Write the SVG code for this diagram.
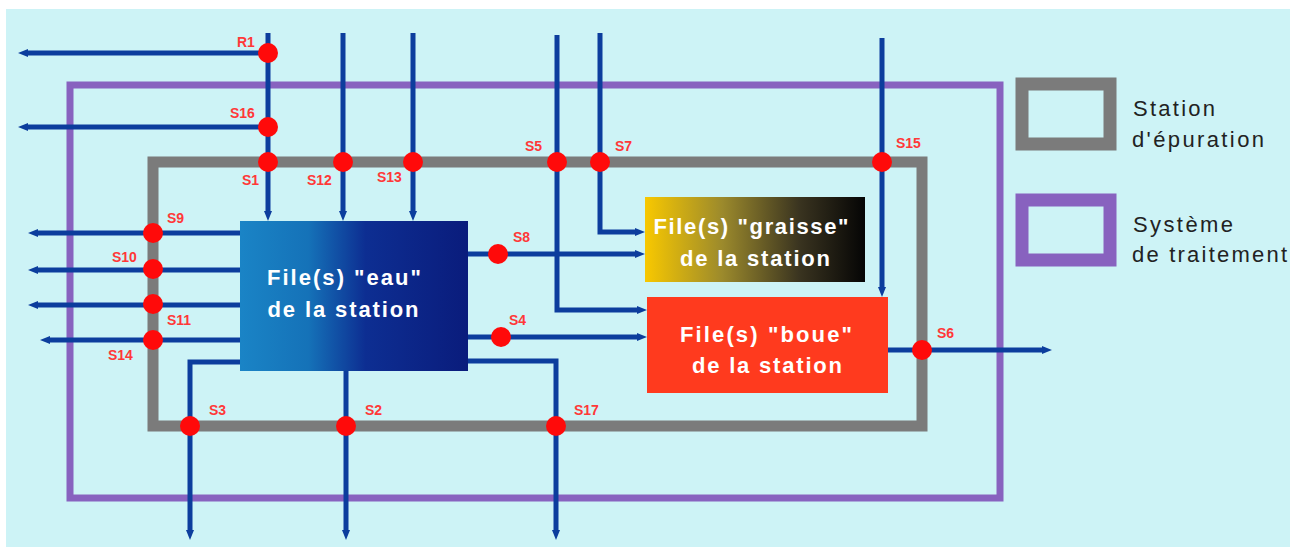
<svg xmlns="http://www.w3.org/2000/svg" width="1290" height="547" viewBox="0 0 1290 547">
<defs>
<style>
.bg{fill:#cdf3f6}
.flow{fill:none;stroke:#0c3d9d;stroke-width:5}
.arr{marker-end:url(#tip)}
.dot{fill:#ff0a0a}
.lbl{font-family:"Liberation Sans",Arial,sans-serif;font-weight:bold;font-size:14px;fill:#ff3838}
.box{font-family:"Liberation Sans",Arial,sans-serif;font-weight:bold;font-size:22px;fill:#ffffff;text-anchor:middle}
.leg{font-family:"Liberation Sans",Arial,sans-serif;font-size:22px;fill:#222222}
.station{fill:none;stroke:#7b7b7b;stroke-width:11}
.systeme{fill:none;stroke:#8862bf;stroke-width:7}
</style>
<marker id="tip" viewBox="0 0 10 8" refX="0" refY="4" markerWidth="10" markerHeight="8" markerUnits="userSpaceOnUse" orient="auto">
<path d="M0,0 L10,4 L0,8 z" fill="#0c3d9d"/>
</marker>
<linearGradient id="gEau" x1="0" y1="0" x2="1" y2="0">
<stop offset="0" stop-color="#1a84c6"/>
<stop offset="0.3" stop-color="#1572b8"/>
<stop offset="0.55" stop-color="#0d2e92"/>
<stop offset="1" stop-color="#0a1c7c"/>
</linearGradient>
<linearGradient id="gGraisse" x1="0" y1="0" x2="1" y2="0">
<stop offset="0" stop-color="#f8c800"/>
<stop offset="0.35" stop-color="#9c8a2c"/>
<stop offset="0.7" stop-color="#3a3420"/>
<stop offset="1" stop-color="#050505"/>
</linearGradient>
</defs>
<rect x="0" y="0" width="1290" height="547" fill="#ffffff"/>
<rect class="bg" x="6" y="9" width="1284" height="538"/>

<g id="systeme-traitement"><rect class="systeme" x="70" y="85" width="930" height="413"/></g>
<g id="station-epuration"><rect class="station" x="153" y="162" width="769" height="264"/></g>

<g id="connectors">
<path class="flow arr" d="M268,53 H28"/>
<path class="flow arr" d="M268,127 H28"/>
<path class="flow arr" d="M268,33 V211"/>
<path class="flow arr" d="M343,33 V211"/>
<path class="flow arr" d="M413,33 V211"/>
<path class="flow arr" d="M557,35 V310 H637"/>
<path class="flow arr" d="M600,33 V232 H635"/>
<path class="flow arr" d="M882,38 V287"/>
<path class="flow arr" d="M240,233 H38"/>
<path class="flow arr" d="M240,270 H38"/>
<path class="flow arr" d="M240,305 H38"/>
<path class="flow arr" d="M240,340 H50"/>
<path class="flow arr" d="M468,254 H635"/>
<path class="flow arr" d="M468,337 H637"/>
<path class="flow arr" d="M346,371 V530"/>
<path class="flow arr" d="M240,362 H190 V530"/>
<path class="flow arr" d="M468,361 H556 V530"/>
<path class="flow arr" d="M888,350 H1042"/>
</g>

<g id="file-eau">
<rect x="240" y="221" width="228" height="150" fill="url(#gEau)"/>
<text class="box" x="344" y="285" textLength="154" lengthAdjust="spacing">File(s) "eau"</text>
<text class="box" x="343" y="317" textLength="151" lengthAdjust="spacing">de la station</text>
</g>
<g id="file-graisse">
<rect x="645" y="197" width="220" height="85" fill="url(#gGraisse)"/>
<text class="box" x="751" y="234" textLength="195" lengthAdjust="spacing">File(s) "graisse"</text>
<text class="box" x="755" y="266" textLength="150" lengthAdjust="spacing">de la station</text>
</g>
<g id="file-boue">
<rect x="647" y="297" width="241" height="96" fill="#ff3a1e"/>
<text class="box" x="766" y="342" textLength="172" lengthAdjust="spacing">File(s) "boue"</text>
<text class="box" x="767" y="373" textLength="150" lengthAdjust="spacing">de la station</text>
</g>

<g id="R1"><circle class="dot" cx="268" cy="53" r="10"/><text class="lbl" x="237" y="47">R1</text></g>
<g id="S16"><circle class="dot" cx="268" cy="127" r="10"/><text class="lbl" x="230" y="118">S16</text></g>
<g id="S1"><circle class="dot" cx="268" cy="162" r="10"/><text class="lbl" x="242" y="185">S1</text></g>
<g id="S12"><circle class="dot" cx="343" cy="162" r="10"/><text class="lbl" x="307" y="185">S12</text></g>
<g id="S13"><circle class="dot" cx="413" cy="162" r="10"/><text class="lbl" x="377" y="182">S13</text></g>
<g id="S5"><circle class="dot" cx="557" cy="162" r="10"/><text class="lbl" x="525" y="151">S5</text></g>
<g id="S7"><circle class="dot" cx="600" cy="162" r="10"/><text class="lbl" x="615" y="151">S7</text></g>
<g id="S15"><circle class="dot" cx="882" cy="162" r="10"/><text class="lbl" x="896" y="148">S15</text></g>
<g id="S9"><circle class="dot" cx="153" cy="233" r="10"/><text class="lbl" x="167" y="223">S9</text></g>
<g id="S10"><circle class="dot" cx="153" cy="269" r="10"/><text class="lbl" x="112" y="262">S10</text></g>
<g id="S11"><circle class="dot" cx="153" cy="304" r="10"/><text class="lbl" x="167" y="325">S11</text></g>
<g id="S14"><circle class="dot" cx="153" cy="340" r="10"/><text class="lbl" x="108" y="360">S14</text></g>
<g id="S8"><circle class="dot" cx="498" cy="254" r="10"/><text class="lbl" x="513" y="242">S8</text></g>
<g id="S4"><circle class="dot" cx="501" cy="337" r="10"/><text class="lbl" x="509" y="325">S4</text></g>
<g id="S3"><circle class="dot" cx="190" cy="426" r="10"/><text class="lbl" x="209" y="415">S3</text></g>
<g id="S2"><circle class="dot" cx="346" cy="426" r="10"/><text class="lbl" x="365" y="415">S2</text></g>
<g id="S17"><circle class="dot" cx="556" cy="426" r="10"/><text class="lbl" x="574" y="415">S17</text></g>
<g id="S6"><circle class="dot" cx="922" cy="350" r="10"/><text class="lbl" x="937" y="338">S6</text></g>

<g id="legend-station">
<rect x="1022" y="84" width="88" height="60" fill="none" stroke="#7b7b7b" stroke-width="13"/>
<text class="leg" x="1133" y="116" textLength="82" lengthAdjust="spacing">Station</text>
<text class="leg" x="1132" y="147" textLength="132" lengthAdjust="spacing">d'épuration</text>
</g>
<g id="legend-systeme">
<rect x="1022" y="200" width="88" height="60" fill="none" stroke="#8862bf" stroke-width="13"/>
<text class="leg" x="1133" y="232" textLength="100" lengthAdjust="spacing">Système</text>
<text class="leg" x="1132" y="262" textLength="155" lengthAdjust="spacing">de traitement</text>
</g>
</svg>
